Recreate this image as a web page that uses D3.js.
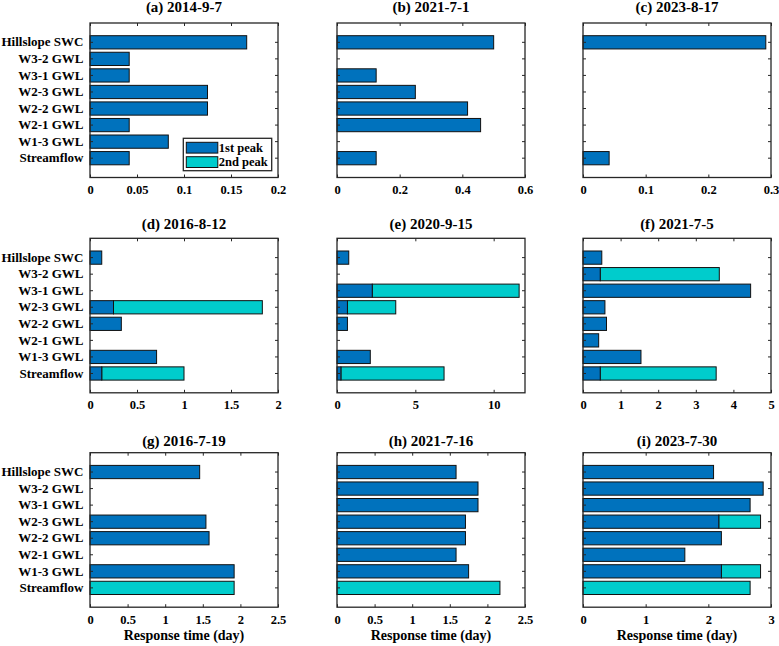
<!DOCTYPE html>
<html>
<head>
<meta charset="utf-8">
<script src="https://cdn.jsdelivr.net/npm/d3@7"></script>
<style>
  body { margin: 0; background: #fff; }
</style>
</head>
<body>
<svg id="chart" width="779" height="646"></svg>
<script>
// categories from top to bottom
var categories = ["Hillslope SWC", "W3-2 GWL", "W3-1 GWL", "W2-3 GWL", "W2-2 GWL", "W2-1 GWL", "W1-3 GWL", "Streamflow"];
var titles = ["(a) 2014-9-7", "(b) 2021-7-1", "(c) 2023-8-17", "(d) 2016-8-12", "(e) 2020-9-15",
  "(f) 2021-7-5", "(g) 2016-7-19", "(h) 2021-7-16", "(i) 2023-7-30"];
var xMax = [0.2, 0.6, 0.3, 2, 12, 5, 2.5, 2.5, 3];
var xTicks = [
  [0, 0.05, 0.1, 0.15, 0.2], [0, 0.2, 0.4, 0.6], [0, 0.1, 0.2, 0.3],
  [0, 0.5, 1, 1.5, 2], [0, 5, 10], [0, 1, 2, 3, 4, 5],
  [0, 0.5, 1, 1.5, 2, 2.5], [0, 0.5, 1, 1.5, 2, 2.5], [0, 1, 2, 3]
];
// response time (day) of the 1st peak, 0 = none
var firstPeak = [
  [0.1667, 0.0417, 0.0417, 0.125, 0.125, 0.0417, 0.0833, 0.0417],
  [0.5, 0, 0.125, 0.25, 0.4167, 0.4583, 0, 0.125],
  [0.2917, 0, 0, 0, 0, 0, 0, 0.0417],
  [0.125, 0, 0, 0.25, 0.3333, 0, 0.7083, 0.125],
  [0.75, 0, 2.25, 0.6667, 0.6667, 0, 2.125, 0.25],
  [0.5, 0.4583, 4.4583, 0.5833, 0.625, 0.4167, 1.5417, 0.4583],
  [1.4583, 0, 0, 1.5417, 1.5833, 0, 1.9167, 0],
  [1.5833, 1.875, 1.875, 1.7083, 1.7083, 1.5833, 1.75, 0],
  [2.0833, 2.875, 2.6667, 2.1667, 2.2083, 1.625, 2.2083, 0]
];
// response time (day) of the 2nd peak, 0 = none
var secondPeak = [
  [0, 0, 0, 0, 0, 0, 0, 0],
  [0, 0, 0, 0, 0, 0, 0, 0],
  [0, 0, 0, 0, 0, 0, 0, 0],
  [0, 0, 0, 1.8333, 0, 0, 0, 1.0],
  [0, 0, 11.625, 3.75, 0, 0, 0, 6.8333],
  [0, 3.625, 0, 0, 0, 0, 0, 3.5417],
  [0, 0, 0, 0, 0, 0, 0, 1.9167],
  [0, 0, 0, 0, 0, 0, 0, 2.1667],
  [0, 0, 0, 2.8333, 0, 0, 2.8333, 2.6667]
];
var legendLabels = ["1st peak", "2nd peak"];
var colors = ["#0072bd", "#00cccc"];

var svg = d3.select("#chart");
var colX = [90, 337, 583];
var rowY = [23, 238.3, 452.7];
var titleY = [11.5, 228.5, 445.5];
var width = 188;
var height = 154.5;

titles.forEach(function(title, i) {
  var col = i % 3, row = Math.floor(i / 3);
  var g = svg.append("g")
    .attr("transform", "translate(" + colX[col] + "," + rowY[row] + ")");

  var x = d3.scaleLinear().domain([0, xMax[i]]).range([0, width]);
  var y = d3.scaleBand().domain(categories).range([0, height])
    .paddingInner(0.2).paddingOuter(0.767);

  var rows = categories.map(function(c, k) {
    return { cat: c, p1: firstPeak[i][k], p2: secondPeak[i][k] };
  });

  // 2nd peak segment, stacked after the 1st peak
  g.selectAll(".bar2")
    .data(rows.filter(function(d) { return d.p2 > 0; }))
    .enter()
    .append("rect")
    .attr("x", function(d) { return x(d.p1); })
    .attr("y", function(d) { return y(d.cat); })
    .attr("width", function(d) { return x(d.p2) - x(d.p1); })
    .attr("height", y.bandwidth())
    .attr("fill", colors[1])
    .attr("stroke", "#111")
    .attr("stroke-width", 1);

  g.selectAll(".bar1")
    .data(rows.filter(function(d) { return d.p1 > 0; }))
    .enter()
    .append("rect")
    .attr("x", x(0))
    .attr("y", function(d) { return y(d.cat); })
    .attr("width", function(d) { return x(d.p1) - x(0); })
    .attr("height", y.bandwidth())
    .attr("fill", colors[0])
    .attr("stroke", "#111")
    .attr("stroke-width", 1);

  var fmt = d3.format("~g");

  var xb = g.append("g")
    .attr("transform", "translate(0," + height + ")")
    .call(d3.axisBottom(x).tickValues(xTicks[i]).tickFormat(fmt).tickSizeInner(-3).tickSizeOuter(0));
  xb.selectAll("text").attr("y", 16.5).attr("dy", 0).style("font-size", "12.5px");

  g.append("g")
    .call(d3.axisTop(x).tickValues(xTicks[i]).tickFormat("").tickSizeInner(-3).tickSizeOuter(0));

  var yl = g.append("g")
    .call(d3.axisLeft(y).tickSizeInner(-3).tickSizeOuter(0).tickPadding(6.5));
  yl.selectAll("text").style("font-size", "13px");
  if (col > 0) yl.selectAll("text").remove();

  g.append("g")
    .attr("transform", "translate(" + width + ",0)")
    .call(d3.axisRight(y).tickFormat("").tickSizeInner(-3).tickSizeOuter(0));

  g.selectAll(".domain").remove();
  g.selectAll(".tick line").attr("stroke", "#262626").attr("stroke-width", 1);

  g.append("rect")
    .attr("width", width)
    .attr("height", height)
    .attr("fill", "none")
    .attr("stroke", "#262626")
    .attr("stroke-width", 1.3);

  svg.append("text")
    .attr("x", colX[col] + width / 2)
    .attr("y", titleY[row])
    .attr("text-anchor", "middle")
    .style("font-size", "15px")
    .text(title);

  if (row == 2) {
    g.append("text")
      .attr("x", width / 2)
      .attr("y", height + 32.5)
      .attr("text-anchor", "middle")
      .style("font-size", "14px")
      .text("Response time (day)");
  }

  if (i == 0) {
    var lg = g.append("g").attr("transform", "translate(93.3,115.3)");
    lg.append("rect")
      .attr("width", 88.4)
      .attr("height", 32.4)
      .attr("fill", "#fff")
      .attr("stroke", "#262626")
      .attr("stroke-width", 1.3);
    legendLabels.forEach(function(lab, k) {
      lg.append("rect")
        .attr("x", 3)
        .attr("y", 4 + k * 14.4)
        .attr("width", 31.5)
        .attr("height", 10.8)
        .attr("fill", colors[k])
        .attr("stroke", "#111")
        .attr("stroke-width", 1);
      lg.append("text")
        .attr("x", 35.5)
        .attr("y", 13.6 + k * 14.4)
        .style("font-size", "12.5px")
        .text(lab);
    });
  }
});

svg.selectAll("text")
  .style("font-family", "'Liberation Serif', 'Times New Roman', Times, serif")
  .style("font-weight", "bold")
  .attr("fill", "#000");
</script>
</body>
</html>
